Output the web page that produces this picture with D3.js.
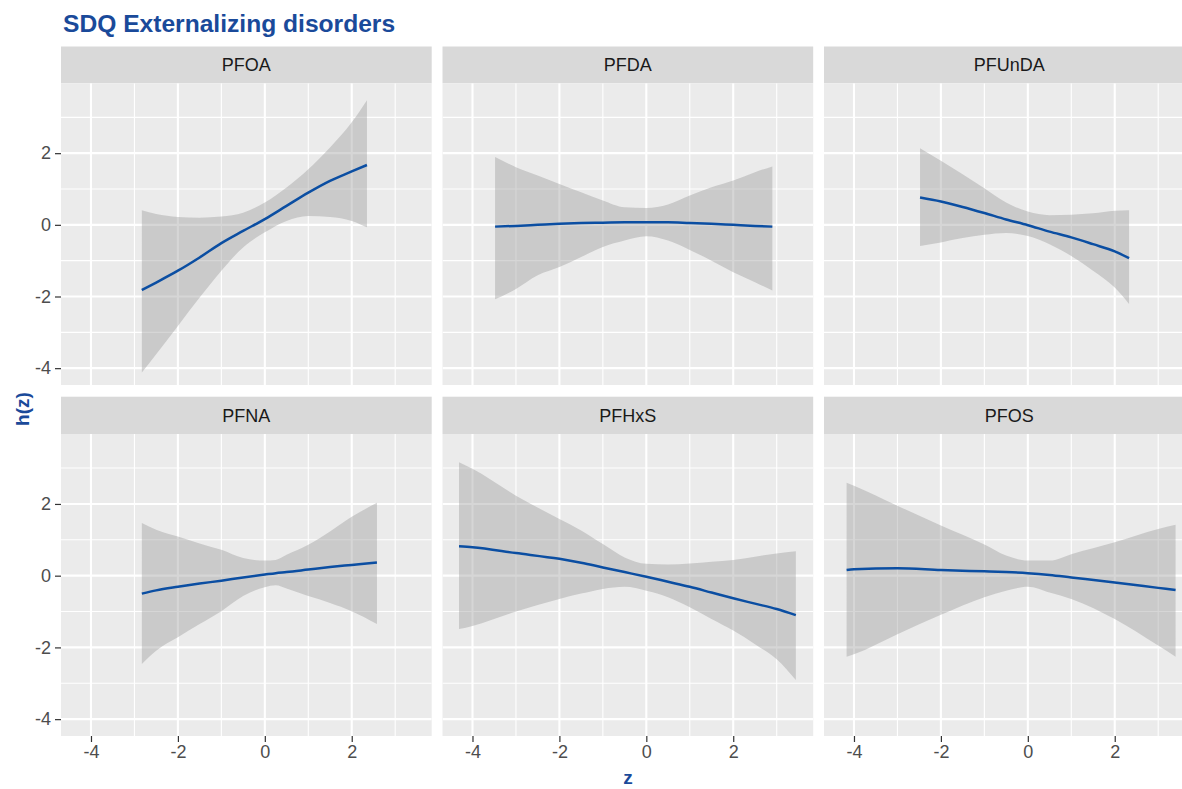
<!DOCTYPE html>
<html>
<head>
<meta charset="utf-8">
<script src="https://cdn.jsdelivr.net/npm/d3@7"></script>
<style>
  html, body { margin: 0; padding: 0; background: #ffffff; }
  svg { display: block; }
  text { font-family: "Liberation Sans", Arial, sans-serif; }
</style>
</head>
<body>
<svg id="chart" width="1182" height="789"></svg>
<script>
// ---------------- data ----------------
const title = "SDQ Externalizing disorders";
const xLabel = "z";
const yLabel = "h(z)";
const panelNames = ["PFOA", "PFDA", "PFUnDA", "PFNA", "PFHxS", "PFOS"];
const xTicks = [-4, -2, 0, 2];
const yTicks = [-4, -2, 0, 2];
const xMinor = [-3, -1, 1, 3];
const yMinor = [-3, -1, 1, 3];

const pfoaX   = [-2.83, -2.5, -2, -1.5, -1, -0.5, 0, 0.5, 1, 1.5, 2, 2.35];
const pfoaFit = [-1.82, -1.61, -1.28, -0.91, -0.51, -0.17, 0.16, 0.53, 0.90, 1.23, 1.49, 1.67];
const pfoaHi  = [0.41, 0.30, 0.22, 0.20, 0.23, 0.34, 0.62, 1.04, 1.55, 2.16, 2.86, 3.48];
const pfoaLo  = [-4.12, -3.61, -2.82, -2.03, -1.28, -0.63, -0.21, 0.11, 0.25, 0.22, 0.11, -0.07];

const pfdaX   = [-3.48, -3, -2.5, -2, -1.5, -1, -0.5, 0, 0.5, 1, 1.5, 2, 2.5, 2.9];
const pfdaFit = [-0.05, -0.03, 0.0, 0.03, 0.05, 0.06, 0.07, 0.07, 0.07, 0.05, 0.03, 0.0, -0.03, -0.05];
const pfdaHi  = [1.89, 1.61, 1.38, 1.14, 0.91, 0.68, 0.49, 0.47, 0.57, 0.82, 1.05, 1.24, 1.47, 1.63];
const pfdaLo  = [-2.08, -1.79, -1.41, -1.18, -0.90, -0.62, -0.44, -0.32, -0.44, -0.70, -1.0, -1.32, -1.60, -1.83];

const pfundaX   = [-2.48, -2, -1.5, -1, -0.5, 0, 0.5, 1, 1.5, 2, 2.33];
const pfundaFit = [0.76, 0.65, 0.50, 0.33, 0.15, -0.01, -0.19, -0.35, -0.54, -0.74, -0.93];
const pfundaHi  = [2.14, 1.79, 1.41, 1.02, 0.62, 0.37, 0.27, 0.28, 0.32, 0.39, 0.41];
const pfundaLo  = [-0.59, -0.49, -0.37, -0.28, -0.23, -0.31, -0.54, -0.87, -1.28, -1.75, -2.21];

const pfnaX   = [-2.83, -2.5, -2, -1.5, -1, -0.5, 0, 0.25, 0.5, 1, 1.5, 2, 2.58];
const pfnaFit = [-0.50, -0.41, -0.31, -0.22, -0.14, -0.05, 0.03, 0.07, 0.10, 0.17, 0.24, 0.30, 0.37];
const pfnaHi  = [1.47, 1.28, 1.09, 0.90, 0.72, 0.49, 0.42, 0.44, 0.58, 0.86, 1.23, 1.64, 2.03];
const pfnaLo  = [-2.46, -2.09, -1.72, -1.35, -0.99, -0.57, -0.32, -0.27, -0.36, -0.57, -0.76, -0.99, -1.35];

const pfhxsX   = [-4.31, -4, -3, -2, -1.5, -1, -0.5, 0, 0.5, 1, 1.5, 2, 2.5, 3, 3.44];
const pfhxsFit = [0.82, 0.79, 0.63, 0.47, 0.36, 0.23, 0.10, -0.03, -0.17, -0.31, -0.47, -0.63, -0.78, -0.93, -1.10];
const pfhxsHi  = [3.16, 2.98, 2.23, 1.58, 1.26, 0.88, 0.51, 0.33, 0.31, 0.34, 0.39, 0.44, 0.53, 0.62, 0.68];
const pfhxsLo  = [-1.49, -1.40, -1.0, -0.65, -0.50, -0.37, -0.31, -0.42, -0.60, -0.88, -1.21, -1.53, -1.91, -2.33, -2.91];

const pfosX   = [-4.17, -4, -3, -2, -1, -0.5, 0, 0.5, 1, 2, 3, 3.4];
const pfosFit = [0.16, 0.18, 0.21, 0.16, 0.12, 0.10, 0.07, 0.02, -0.05, -0.19, -0.34, -0.40];
const pfosHi  = [2.59, 2.51, 1.95, 1.40, 0.87, 0.56, 0.42, 0.42, 0.60, 0.93, 1.30, 1.42];
const pfosLo  = [-2.26, -2.19, -1.63, -1.09, -0.60, -0.42, -0.31, -0.47, -0.65, -1.21, -1.95, -2.26];

const seriesX   = [pfoaX, pfdaX, pfundaX, pfnaX, pfhxsX, pfosX];
const seriesFit = [pfoaFit, pfdaFit, pfundaFit, pfnaFit, pfhxsFit, pfosFit];
const seriesHi  = [pfoaHi, pfdaHi, pfundaHi, pfnaHi, pfhxsHi, pfosHi];
const seriesLo  = [pfoaLo, pfdaLo, pfundaLo, pfnaLo, pfhxsLo, pfosLo];

// ---------------- layout ----------------
const svg = d3.select("#chart");
const panelW = 370.7;
const panelLefts = [61, 442.5, 824];
const rows = [
  { stripTop: 46.5, panelTop: 83.3, panelBottom: 385 },
  { stripTop: 396.7, panelTop: 434, panelBottom: 736 }
];
const xDomain = [-4.69, 3.84];
const yDomain = [-4.47, 3.95];

const blue = "#0b4ea2";
const titleBlue = "#1a4a9a";

const defs = svg.append("defs");

panelNames.forEach((name, i) => {
  const col = i % 3, row = Math.floor(i / 3);
  const L = panelLefts[col];
  const R = rows[row];
  const x = d3.scaleLinear().domain(xDomain).range([L, L + panelW]);
  const y = d3.scaleLinear().domain(yDomain).range([R.panelBottom, R.panelTop]);

  // strip
  svg.append("rect")
    .attr("x", L).attr("y", R.stripTop)
    .attr("width", panelW).attr("height", R.panelTop - R.stripTop)
    .attr("fill", "#d9d9d9");
  svg.append("text")
    .attr("x", L + panelW / 2).attr("y", (R.stripTop + R.panelTop) / 2)
    .attr("dy", "0.36em")
    .attr("text-anchor", "middle")
    .attr("font-size", 18).attr("fill", "#1a1a1a")
    .text(name);

  // panel background
  svg.append("rect")
    .attr("x", L).attr("y", R.panelTop)
    .attr("width", panelW).attr("height", R.panelBottom - R.panelTop)
    .attr("fill", "#ebebeb");

  const clipId = "clip" + i;
  defs.append("clipPath").attr("id", clipId).append("rect")
    .attr("x", L).attr("y", R.panelTop)
    .attr("width", panelW).attr("height", R.panelBottom - R.panelTop);

  const g = svg.append("g").attr("clip-path", `url(#${clipId})`);

  // grid
  g.selectAll(".ymin").data(yMinor).enter().append("line")
    .attr("x1", L).attr("x2", L + panelW)
    .attr("y1", d => y(d)).attr("y2", d => y(d))
    .attr("stroke", "#fff").attr("stroke-width", 1.1);
  g.selectAll(".xmin").data(xMinor).enter().append("line")
    .attr("y1", R.panelTop).attr("y2", R.panelBottom)
    .attr("x1", d => x(d)).attr("x2", d => x(d))
    .attr("stroke", "#fff").attr("stroke-width", 1.1);
  g.selectAll(".ymaj").data(yTicks).enter().append("line")
    .attr("x1", L).attr("x2", L + panelW)
    .attr("y1", d => y(d)).attr("y2", d => y(d))
    .attr("stroke", "#fff").attr("stroke-width", 2.1);
  g.selectAll(".xmaj").data(xTicks).enter().append("line")
    .attr("y1", R.panelTop).attr("y2", R.panelBottom)
    .attr("x1", d => x(d)).attr("x2", d => x(d))
    .attr("stroke", "#fff").attr("stroke-width", 2.1);

  // data
  const pts = seriesX[i].map((xv, k) => ({
    x: xv, fit: seriesFit[i][k], lo: seriesLo[i][k], hi: seriesHi[i][k]
  }));
  const area = d3.area()
    .x(d => x(d.x)).y0(d => y(d.lo)).y1(d => y(d.hi))
    .curve(d3.curveMonotoneX);
  g.append("path").datum(pts).attr("d", area)
    .attr("fill", "#999999").attr("fill-opacity", 0.4);
  const line = d3.line().x(d => x(d.x)).y(d => y(d.fit)).curve(d3.curveMonotoneX);
  g.append("path").datum(pts).attr("d", line)
    .attr("fill", "none").attr("stroke", blue).attr("stroke-width", 2.5);

  // y axis (left column)
  if (col === 0) {
    const ya = svg.append("g").attr("transform", `translate(${L},0)`)
      .call(d3.axisLeft(y).tickValues(yTicks).tickSize(6).tickPadding(4).tickFormat(d3.format("d")));
    ya.select(".domain").remove();
    ya.selectAll(".tick line").attr("stroke", "#333333").attr("stroke-width", 1.2);
    ya.selectAll(".tick text").attr("font-size", 18).attr("fill", "#4d4d4d")
      .attr("font-family", "'Liberation Sans', Arial, sans-serif")
      .text(d => d < 0 ? "-" + Math.abs(d) : d);
  }
  // x axis (bottom row)
  if (row === 1) {
    const xa = svg.append("g").attr("transform", `translate(0,${R.panelBottom})`)
      .call(d3.axisBottom(x).tickValues(xTicks).tickSize(6).tickPadding(3).tickFormat(d3.format("d")));
    xa.select(".domain").remove();
    xa.selectAll(".tick line").attr("stroke", "#333333").attr("stroke-width", 1.2);
    xa.selectAll(".tick text").attr("font-size", 18).attr("fill", "#4d4d4d")
      .attr("font-family", "'Liberation Sans', Arial, sans-serif")
      .text(d => d < 0 ? "-" + Math.abs(d) : d);
  }
});

// titles
svg.append("text")
  .attr("x", 63).attr("y", 31.5)
  .attr("font-size", 24.6).attr("font-weight", "bold").attr("fill", titleBlue)
  .text(title);

svg.append("text")
  .attr("transform", "translate(29,409) rotate(-90)")
  .attr("text-anchor", "middle")
  .attr("font-size", 19).attr("font-weight", "bold").attr("fill", titleBlue)
  .text(yLabel);

svg.append("text")
  .attr("x", 628).attr("y", 784)
  .attr("text-anchor", "middle")
  .attr("font-size", 19).attr("font-weight", "bold").attr("fill", titleBlue)
  .text(xLabel);
</script>
</body>
</html>
